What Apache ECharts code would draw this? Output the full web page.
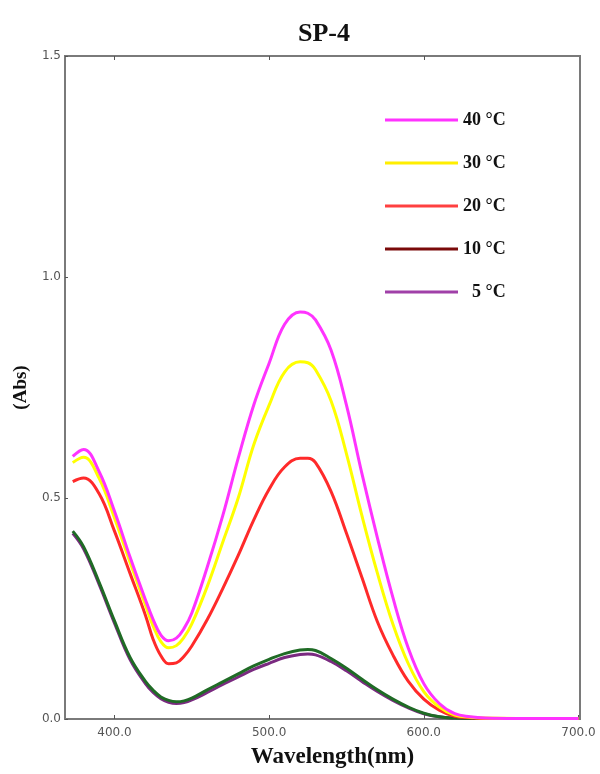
<!DOCTYPE html>
<html>
<head>
<meta charset="utf-8">
<script src="https://cdn.jsdelivr.net/npm/echarts@6/dist/echarts.min.js"></script>
<style>
  html, body { margin: 0; padding: 0; background: #fff; }
  #chart { width: 600px; height: 774px; }
</style>
</head>
<body>
<div id="chart"></div>
<script>
// wavelength (nm)
const wavelengths = [373, 380, 390, 400, 410, 420, 425, 430, 435, 440, 445, 450, 460, 470, 480, 490, 500, 510, 520, 525, 530, 540, 550, 560, 570, 580, 590, 600, 610, 620, 630, 640, 660, 680, 700];

const abs40 = [0.594, 0.610, 0.56, 0.47, 0.367, 0.27, 0.225, 0.19, 0.177, 0.183, 0.205, 0.24, 0.344, 0.46, 0.59, 0.71, 0.805, 0.893, 0.921, 0.918, 0.903, 0.835, 0.71, 0.555, 0.41, 0.275, 0.16, 0.08, 0.035, 0.012, 0.005, 0.002, 0.001, 0.001, 0.001];
const abs30 = [0.58, 0.592, 0.545, 0.455, 0.355, 0.258, 0.21, 0.175, 0.161, 0.166, 0.185, 0.215, 0.30, 0.40, 0.50, 0.62, 0.71, 0.785, 0.808, 0.806, 0.79, 0.72, 0.60, 0.46, 0.33, 0.215, 0.125, 0.062, 0.027, 0.009, 0.004, 0.002, 0.001, 0.001, 0.001];
const abs20 = [0.537, 0.545, 0.51, 0.425, 0.33, 0.235, 0.18, 0.143, 0.125, 0.127, 0.142, 0.165, 0.225, 0.295, 0.37, 0.45, 0.52, 0.57, 0.59, 0.59, 0.58, 0.515, 0.42, 0.32, 0.22, 0.145, 0.085, 0.045, 0.02, 0.006, 0.003, 0.001, 0.001, 0.001, 0.001];
const abs10 = [0.425, 0.39, 0.31, 0.222, 0.14, 0.085, 0.065, 0.05, 0.042, 0.039, 0.041, 0.047, 0.066, 0.084, 0.102, 0.12, 0.135, 0.148, 0.156, 0.157, 0.155, 0.137, 0.115, 0.09, 0.066, 0.045, 0.027, 0.013, 0.005, 0.002, 0.001, 0.001, 0.001, 0.001, 0.001];
const abs5 = [0.42, 0.385, 0.305, 0.217, 0.135, 0.08, 0.06, 0.046, 0.038, 0.035, 0.037, 0.043, 0.06, 0.078, 0.095, 0.112, 0.126, 0.139, 0.146, 0.147, 0.145, 0.13, 0.109, 0.085, 0.062, 0.042, 0.025, 0.012, 0.005, 0.002, 0.001, 0.001, 0.001, 0.001, 0.001];

const xTicks = [400, 500, 600, 700];

const serif = '"Liberation Serif", "DejaVu Serif", serif';
const axisGray = '#7a7a7a';

function pairs(vals) {
  return wavelengths.map((w, i) => [w, vals[i]]);
}

function line(name, vals, color, width) {
  return {
    name: name,
    type: 'line',
    data: pairs(vals),
    smooth: 0.4,
    symbol: 'none',
    lineStyle: { color: color, width: width },
    itemStyle: { color: color }
  };
}

const chart = echarts.init(document.getElementById('chart'));

chart.setOption({
  animation: false,
  backgroundColor: '#fff',
  title: {
    text: 'SP-4',
    left: 319,
    textAlign: 'center',
    top: 16,
    textStyle: { fontFamily: serif, fontWeight: 'bold', fontSize: 26, color: '#111' }
  },
  grid: {
    left: 65, right: 20, top: 56, bottom: 47,
    show: true, borderColor: axisGray, borderWidth: 2
  },
  legend: {
    orient: 'vertical',
    left: 380,
    top: 106,
    icon: 'rect',
    itemWidth: 73,
    itemHeight: 3,
    itemGap: 25,
    data: [
      { name: '40 °C', itemStyle: { color: '#ff33ff' } },
      { name: '30 °C', itemStyle: { color: '#ffee00' } },
      { name: '20 °C', itemStyle: { color: '#ff4040' } },
      { name: '10 °C', itemStyle: { color: '#7a0a0a' } },
      { name: '5 °C', itemStyle: { color: '#a040a8' } }
    ],
    formatter: n => (n === '5 °C' ? '  ' + n : n),
    textStyle: { fontFamily: serif, fontWeight: 'bold', fontSize: 18, color: '#111' }
  },
  xAxis: [{
    type: 'value',
    min: 368,
    max: 701,
    position: 'bottom',
    name: 'Wavelength(nm)',
    nameLocation: 'middle',
    nameGap: 27,
    nameTextStyle: { fontFamily: serif, fontWeight: 'bold', fontSize: 23, color: '#111', padding: [0, 0, 0, 20] },
    axisLine: { show: true, lineStyle: { color: axisGray, width: 2 } },
    axisTick: { show: true, inside: true, length: 4, customValues: xTicks, lineStyle: { color: '#555' } },
    axisLabel: {
      customValues: xTicks,
      formatter: v => v.toFixed(1),
      fontFamily: '"DejaVu Sans", sans-serif',
      fontSize: 12,
      color: '#555',
      margin: 8
    },
    splitLine: { show: false }
  }, {
    type: 'value',
    min: 368,
    max: 701,
    position: 'top',
    axisLine: { show: true, lineStyle: { color: axisGray, width: 2 } },
    axisTick: { show: true, inside: true, length: 4, customValues: [400, 500, 600], lineStyle: { color: '#555' } },
    axisLabel: { show: false },
    splitLine: { show: false }
  }],
  yAxis: {
    type: 'value',
    min: 0,
    max: 1.5,
    interval: 0.5,
    name: '(Abs)',
    nameLocation: 'middle',
    nameGap: 30,
    nameRotate: 90,
    nameTextStyle: { fontFamily: serif, fontWeight: 'bold', fontSize: 19, color: '#111' },
    axisLine: { show: true, lineStyle: { color: axisGray, width: 2 } },
    axisTick: { show: true, inside: true, length: 3, lineStyle: { color: '#555' } },
    axisLabel: {
      formatter: v => v.toFixed(1),
      fontFamily: '"DejaVu Sans", sans-serif',
      fontSize: 12,
      color: '#555',
      margin: 4
    },
    splitLine: { show: false }
  },
  series: [
    line('5 °C', abs5, '#7a2a80', 3),
    line('10 °C', abs10, '#1f6b25', 3),
    line('20 °C', abs20, '#ff2a2a', 3),
    line('30 °C', abs30, '#ffff00', 3),
    line('40 °C', abs40, '#ff33ff', 3)
  ]
});
</script>
</body>
</html>
